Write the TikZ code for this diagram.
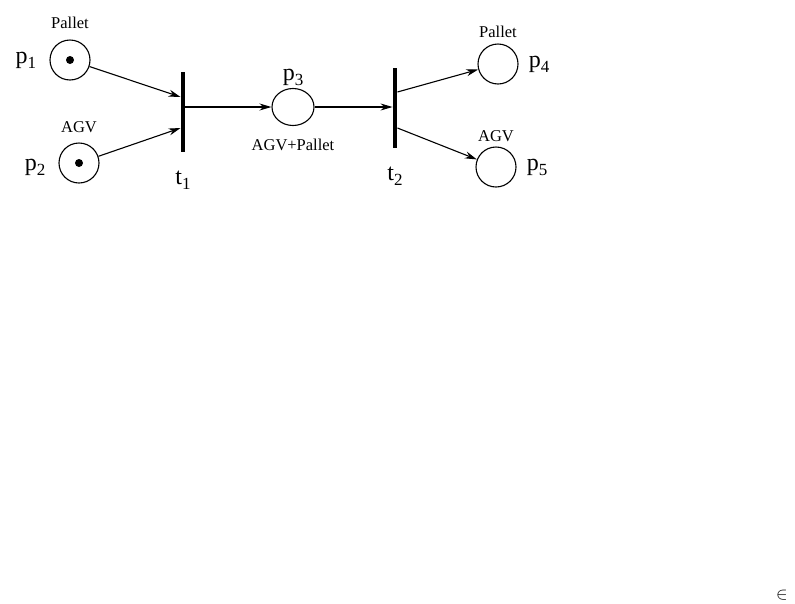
\documentclass[tikz,border=0pt]{standalone}
\usepackage{fontspec}
\setmainfont{Liberation Serif}
\usetikzlibrary{
  arrows.meta,
  positioning,
  shapes.geometric,
}
\newcommand{\plc}[2]{#1\raisebox{-0.45ex}{\fontsize{17}{19}\selectfont #2}}

\begin{document}
\begin{tikzpicture}[x=1pt,y=-1pt,
    place/.style={circle,draw,line width=1.1pt,minimum size=40pt,inner sep=0pt},
    token/.style={circle,fill,inner sep=0pt,minimum size=8pt},
    trans/.style={rectangle,fill,inner sep=0pt,minimum width=4.5pt,minimum height=80pt},
    small/.style={font=\fontsize{16.5}{18}\selectfont,inner sep=1pt},
    big/.style={font=\fontsize{24}{26}\selectfont,inner sep=1pt},
    arc/.style={line width=1.1pt,-{Stealth[length=12pt,width=7pt]}},
  ]
    \useasboundingbox (0,0) rectangle (795,603);
    \node [place] (P1) at (70,60) {};
    \node [token] at (P1) {};
    \node [place] (P2) at (79,163) {};
    \node [token] at (P2) {};
    \node [trans] (T1) at (183,112) {};
    \node [ellipse,draw,line width=1.1pt,minimum width=42pt,minimum height=37pt,inner sep=0pt] (P3) at (293,107) {};
    \node [trans] (T2) at (395,108) {};
    \node [place] (P4) at (498,64) {};
    \node [place] (P5) at (496,167) {};
    % labels
    \node [small,above=10pt of P1] (L1) {Pallet};
    \node [big,left=12pt of P1] (N1) {\plc{p}{1}};
    \node [small,above=9pt of P2] (L2) {AGV};
    \node [big,left=12pt of P2,yshift=-4pt] (N2) {\plc{p}{2}};
    \node [big,below=18pt of T1] (M1) {\plc{t}{1}};
    \node [big,above=1pt of P3] (N3) {\plc{p}{3}};
    \node [small,below=12pt of P3] (L3) {AGV+Pallet};
    \node [big,below=18pt of T2] (M2) {\plc{t}{2}};
    \node [small,above=5pt of P4] (L4) {Pallet};
    \node [big,right=9pt of P4] (N4) {\plc{p}{4}};
    \node [small,above=4pt of P5] (L5) {AGV};
    \node [big,right=9pt of P5] (N5) {\plc{p}{5}};
    \node [font=\fontsize{18}{20}\selectfont] (E) at (782,595) {$\in$};
    % arcs
    \draw [arc] (P1) to ([yshift=15pt]T1.west);
    \draw [arc] (P2) to ([yshift=-16pt]T1.west);
    \draw [arc] (T1.east |- P3) to (P3);
    \draw [arc] (P3) to (P3 -| T2.west);
    \draw [arc] ([yshift=16pt]T2.east) to (P4);
    \draw [arc] ([yshift=-20pt]T2.east) to (P5);
  \end{tikzpicture}
\end{document}
